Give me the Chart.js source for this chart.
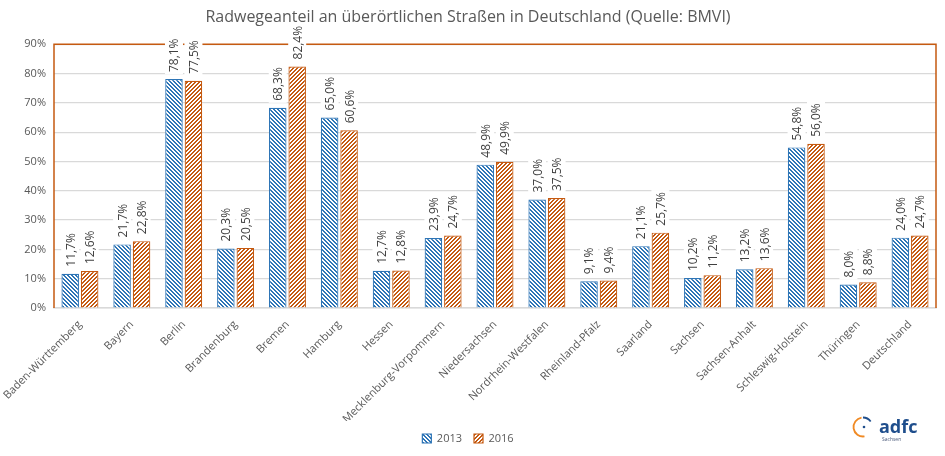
<!DOCTYPE html>
<html>
<head>
<meta charset="utf-8">
<script src="https://cdn.jsdelivr.net/npm/chart.js@4"></script>
<style>
  html, body { margin: 0; padding: 0; background: #fff; }
  #wrap { width: 945px; height: 456px; }
</style>
</head>
<body>
<div id="wrap"><canvas id="myChart" width="945" height="456"></canvas></div>
<script>
var laender = ['Baden-Württemberg', 'Bayern', 'Berlin', 'Brandenburg', 'Bremen', 'Hamburg', 'Hessen',
  'Mecklenburg-Vorpommern', 'Niedersachsen', 'Nordrhein-Westfalen', 'Rheinland-Pfalz', 'Saarland',
  'Sachsen', 'Sachsen-Anhalt', 'Schleswig-Holstein', 'Thüringen', 'Deutschland'];
var werte2013 = [11.7, 21.7, 78.1, 20.3, 68.3, 65.0, 12.7, 23.9, 48.9, 37.0, 9.1, 21.1, 10.2, 13.2, 54.8, 8.0, 24.0];
var werte2016 = [12.6, 22.8, 77.5, 20.5, 82.4, 60.6, 12.8, 24.7, 49.9, 37.5, 9.4, 25.7, 11.2, 13.6, 56.0, 8.8, 24.7];

var blau = '#2e75b6';
var orange = '#c55a11';
var textGrau = '#595959';

// hatch pattern, dir 1 = "\" , -1 = "/"
function hatch(color, dir) {
  var s = 4;
  var c = document.createElement('canvas');
  c.width = s; c.height = s;
  var g = c.getContext('2d');
  g.fillStyle = '#fff';
  g.fillRect(0, 0, s, s);
  g.fillStyle = color;
  for (var x = 0; x < s; x++) {
    for (var y = 0; y < s; y++) {
      var d = dir > 0 ? (x - y + s * 4) % s : (x + y) % s;
      if (d < 2) g.fillRect(x, y, 1, 1);
    }
  }
  return g.createPattern(c, 'repeat');
}

function fmt(v) {
  return v.toFixed(1).replace('.', ',') + '%';
}

// orange frame left/top/right, drawn before the value labels
var rahmen = {
  id: 'rahmen',
  beforeDatasetsDraw: function(chart) {
    var a = chart.chartArea, c = chart.ctx;
    c.save();
    c.strokeStyle = orange;
    c.lineWidth = 1.5;
    c.beginPath();
    c.moveTo(a.left, a.bottom);
    c.lineTo(a.left, a.top);
    c.lineTo(a.right, a.top);
    c.lineTo(a.right, a.bottom);
    c.stroke();
    c.restore();
  }
};

var werteLabels = {
  id: 'werteLabels',
  afterDatasetsDraw: function(chart) {
    var c = chart.ctx;
    c.save();
    c.font = '12px "Open Sans", sans-serif';
    chart.data.datasets.forEach(function(ds, i) {
      chart.getDatasetMeta(i).data.forEach(function(bar, j) {
        var t = fmt(ds.data[j]);
        var w = c.measureText(t).width;
        c.save();
        c.translate(bar.x, bar.y - 7);
        c.rotate(-Math.PI / 2);
        c.fillStyle = '#fff';
        c.fillRect(-2, -9, w + 4, 18);
        c.fillStyle = '#404040';
        c.textAlign = 'left';
        c.textBaseline = 'middle';
        c.fillText(t, 0, 1);
        c.restore();
      });
    });
    c.restore();
  }
};

var logo = {
  id: 'logo',
  afterDraw: function(chart) {
    var c = chart.ctx;
    var cx = 863, cy = 427, r = 9.5;
    c.save();
    c.lineWidth = 1.8;
    c.strokeStyle = '#f08a24';
    c.beginPath();
    c.arc(cx, cy, r, Math.PI * 0.45, Math.PI * 1.45);
    c.stroke();
    c.strokeStyle = '#1f4e8c';
    c.beginPath();
    c.arc(cx, cy, r, Math.PI * 1.5, Math.PI * 1.8);
    c.stroke();
    c.fillStyle = '#1f4e8c';
    c.beginPath();
    c.arc(cx + 1, cy, 1.3, 0, Math.PI * 2);
    c.fill();
    c.font = 'bold 18px "Open Sans", sans-serif';
    c.textBaseline = 'alphabetic';
    c.fillText('adfc', 879, 433);
    c.font = '5px "Open Sans", sans-serif';
    c.fillStyle = '#4a5a7a';
    c.fillText('Sachsen', 882, 441);
    c.restore();
  }
};

var ctx = document.getElementById('myChart').getContext('2d');
var myChart = new Chart(ctx, {
  type: 'bar',
  data: {
    labels: laender,
    datasets: [
      {
        label: '2013',
        data: werte2013,
        backgroundColor: hatch(blau, 1),
        borderColor: blau,
        borderWidth: 1.2
      },
      {
        label: '2016',
        data: werte2016,
        backgroundColor: hatch(orange, -1),
        borderColor: orange,
        borderWidth: 1.2
      }
    ]
  },
  options: {
    responsive: false,
    animation: false,
    categoryPercentage: 0.75,
    barPercentage: 0.9,
    layout: {
      padding: { left: 0, right: 9, top: 0, bottom: 2 }
    },
    plugins: {
      title: {
        display: true,
        text: 'Radwegeanteil an überörtlichen Straßen in Deutschland (Quelle: BMVI)',
        color: textGrau,
        font: { family: '"Open Sans", sans-serif', size: 16, weight: 'normal' },
        padding: { top: 8, bottom: 17 }
      },
      legend: {
        position: 'bottom',
        labels: {
          color: textGrau,
          font: { family: '"Open Sans", sans-serif', size: 11 },
          boxWidth: 9,
          boxHeight: 9,
          padding: 12
        }
      },
      tooltip: { enabled: false }
    },
    scales: {
      x: {
        grid: { display: false },
        border: { color: '#d9d9d9', width: 1.5 },
        ticks: {
          color: textGrau,
          font: { family: '"Open Sans", sans-serif', size: 11 },
          minRotation: 45,
          maxRotation: 45,
          autoSkip: false,
          padding: 2
        },
        afterFit: function(scale) { scale.height = 113; }
      },
      y: {
        min: 0,
        max: 90,
        grid: { color: '#d9d9d9', lineWidth: 1.2, drawTicks: false },
        border: { display: false },
        ticks: {
          stepSize: 10,
          color: textGrau,
          font: { family: '"Open Sans", sans-serif', size: 11 },
          padding: 8,
          callback: function(v) { return v + '%'; }
        },
        afterFit: function(scale) { scale.width = 54; }
      }
    }
  },
  plugins: [rahmen, werteLabels, logo]
});
</script>
</body>
</html>
